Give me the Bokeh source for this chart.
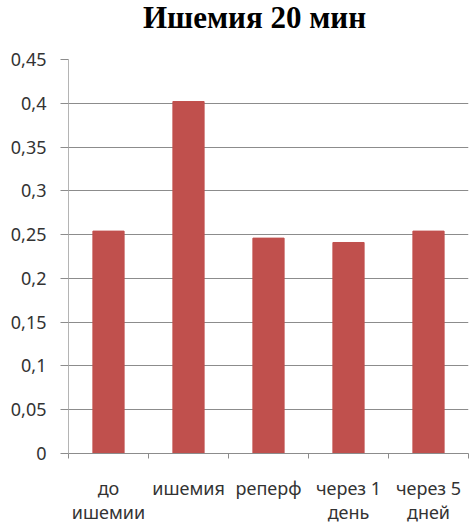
from bokeh.plotting import figure
from bokeh.models import FixedTicker, Range1d
from bokeh.layouts import column
from bokeh.core.properties import value
from bokeh.embed import file_html
from bokeh.resources import INLINE

title_text = "Ишемия 20 мин"
categories = ["до\nишемии", "ишемия", "реперф", "через 1\nдень", "через 5\nдней"]
values = [0.254, 0.402, 0.246, 0.241, 0.254]
y_ticks = [0.0, 0.05, 0.1, 0.15, 0.2, 0.25, 0.3, 0.35, 0.4, 0.45]
y_tick_labels = ["0", "0,05", "0,1", "0,15", "0,2", "0,25", "0,3", "0,35", "0,4", "0,45"]

n = len(categories)
xs = [i + 0.5 for i in range(n)]

W = 470
TH = 47
LEFT = 68
RIGHT = 2

# title strip (its x range maps one unit to one pixel of the window)
t = figure(width=W, height=TH, output_backend="svg", toolbar_location=None,
           x_range=Range1d(LEFT, W - RIGHT), y_range=Range1d(0, TH),
           x_axis_type=None, y_axis_type=None,
           min_border_left=LEFT, min_border_right=RIGHT, min_border_top=0, min_border_bottom=0)
t.outline_line_color = None
t.background_fill_color = "white"
t.border_fill_color = "white"
t.text(x=[254], y=[TH - 17], text=[title_text], text_font=value("Liberation Serif"),
       text_font_style="bold", text_font_size="31px", text_color="#000000",
       text_align="center", text_baseline="middle")

# chart
p = figure(width=W, height=528 - TH, output_backend="svg", toolbar_location=None,
           x_range=Range1d(0, n), y_range=Range1d(0, 0.45),
           min_border_left=LEFT, min_border_right=RIGHT, min_border_top=59 - TH, min_border_bottom=75)
p.outline_line_color = None
p.background_fill_color = "white"
p.border_fill_color = "white"

p.vbar(x=xs, top=values, width=0.39, bottom=0, fill_color="#C0504D", line_color="#C0504D")

# y axis
p.yaxis.ticker = FixedTicker(ticks=y_ticks, minor_ticks=[])
p.yaxis.major_label_overrides = {tk: lb for tk, lb in zip(y_ticks, y_tick_labels)}
p.yaxis.major_tick_in = 0
p.yaxis.major_tick_out = 8
p.yaxis.major_tick_line_color = "#8C8C8C"
p.yaxis.axis_line_color = "#B4B4B4"
p.yaxis.major_label_standoff = 14
p.yaxis.major_label_text_font = "Noto Sans"
p.yaxis.major_label_text_font_size = "18px"
p.yaxis.major_label_text_color = "#333333"

p.ygrid.ticker = FixedTicker(ticks=y_ticks)
p.ygrid.grid_line_color = "#8C8C8C"
p.xgrid.grid_line_color = None

# x axis: tick marks at category boundaries, labels at centres
p.xaxis.ticker = FixedTicker(ticks=xs, minor_ticks=list(range(n + 1)))
p.xaxis.major_label_overrides = {x: c for x, c in zip(xs, categories)}
p.xaxis.major_tick_in = 0
p.xaxis.major_tick_out = 0
p.xaxis.minor_tick_in = 0
p.xaxis.minor_tick_out = 5
p.xaxis.minor_tick_line_color = "#8C8C8C"
p.xaxis.axis_line_color = "#8C8C8C"
p.xaxis.major_label_standoff = 17
p.xaxis.major_label_text_font = "Noto Sans"
p.xaxis.major_label_text_font_size = "18px"
p.xaxis.major_label_text_line_height = 1.0
p.xaxis.major_label_text_color = "#333333"

layout = column(t, p, spacing=0)
open("out.html", "w").write(file_html(layout, INLINE))
